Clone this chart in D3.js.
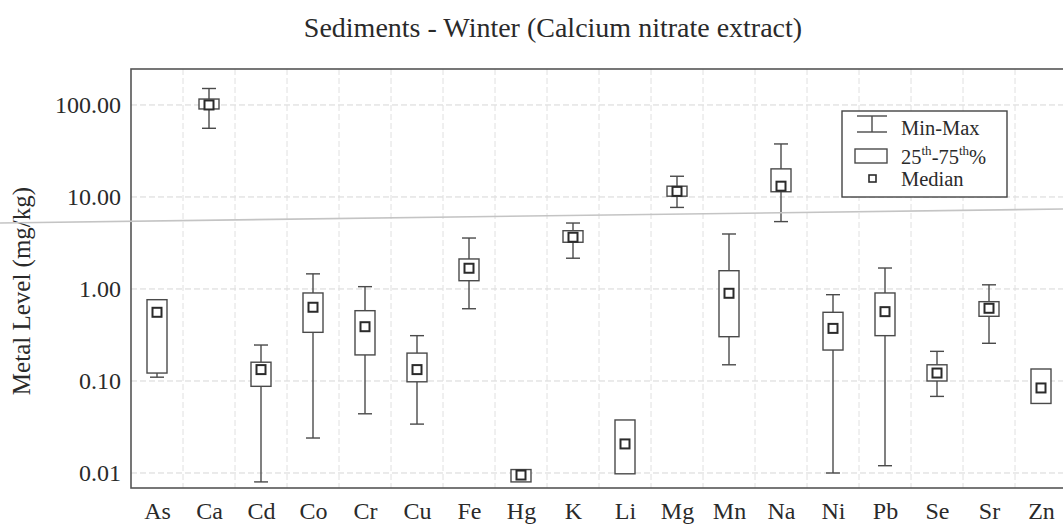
<!DOCTYPE html>
<html>
<head>
<meta charset="utf-8">
<script src="https://cdn.jsdelivr.net/npm/d3@7"></script>
<style>
  html, body { margin: 0; padding: 0; background: #ffffff; }
  svg { display: block; }
  text { font-family: "Liberation Serif", "DejaVu Serif", serif; fill: #2a2a2a; }
</style>
</head>
<body>
<svg id="chart" width="1063" height="524"></svg>
<script>
// ---- data ----
const categories = ["As","Ca","Cd","Co","Cr","Cu","Fe","Hg","K","Li","Mg","Mn","Na","Ni","Pb","Se","Sr","Zn"];
const minValues    = [0.110, 55.8, 0.0080, 0.024, 0.044, 0.034, 0.61, 0.0080, 2.16, 0.0098, 7.7, 0.150, 5.4, 0.0100, 0.012, 0.068, 0.257, 0.057];
const q1Values     = [0.122, 90.5, 0.0875, 0.338, 0.192, 0.098, 1.23, 0.0080, 3.22, 0.0098, 10.2, 0.303, 11.4, 0.217, 0.311, 0.100, 0.505, 0.057];
const medianValues = [0.558, 100,  0.133,  0.633, 0.389, 0.133, 1.68, 0.0095, 3.65, 0.0207, 11.5, 0.898, 13.1, 0.373, 0.567, 0.122, 0.617, 0.084];
const q3Values     = [0.765, 116,  0.160,  0.905, 0.581, 0.201, 2.12, 0.0109, 4.30, 0.0377, 13.1, 1.58, 20.2, 0.558, 0.905, 0.150, 0.728, 0.135];
const maxValues    = [0.765, 151,  0.246,  1.46,  1.06,  0.311, 3.58, 0.0109, 5.21, 0.0377, 16.8, 3.96, 37.7, 0.867, 1.69, 0.210, 1.11, 0.135];
const yTickValues  = [0.01, 0.1, 1, 10, 100];
const titleText = "Sediments - Winter (Calcium nitrate extract)";
const yAxisTitle = "Metal Level (mg/kg)";

const rows = categories.map((c, i) => ({
  cat: c, min: minValues[i], q1: q1Values[i], med: medianValues[i], q3: q3Values[i], max: maxValues[i]
}));

// ---- layout ----
const svg = d3.select("#chart");
const plot = { left: 131, right: 1067, top: 69, bottom: 488 };

const x = d3.scalePoint().domain(categories).range([plot.left, plot.right]).padding(0.5);
const step = x.step();
const y = d3.scaleLog().domain([0.00687, 246]).range([plot.bottom, plot.top]);

// grid
const grid = svg.append("g");
grid.selectAll("line.h").data(yTickValues).join("line")
  .attr("x1", plot.left).attr("x2", plot.right)
  .attr("y1", d => y(d)).attr("y2", d => y(d))
  .attr("stroke", "#d6d6d6").attr("stroke-width", 1).attr("stroke-dasharray", "6,3");
grid.selectAll("line.v").data(categories.slice(1)).join("line")
  .attr("x1", d => x(d) - step / 2).attr("x2", d => x(d) - step / 2)
  .attr("y1", plot.top).attr("y2", plot.bottom)
  .attr("stroke", "#e0e0e0").attr("stroke-width", 1).attr("stroke-dasharray", "6,3");

// boxes
const boxW = 20, capW = 14, medW = 9;
const g = svg.append("g").selectAll("g").data(rows).join("g")
  .attr("transform", d => `translate(${x(d.cat)},0)`);
g.filter(d => d.max > d.q3).append("line")
  .attr("x1", 0).attr("x2", 0).attr("y1", d => y(d.max)).attr("y2", d => y(d.q3))
  .attr("stroke", "#4a4a4a").attr("stroke-width", 1.4);
g.filter(d => d.max > d.q3).append("line")
  .attr("x1", -capW / 2).attr("x2", capW / 2).attr("y1", d => y(d.max)).attr("y2", d => y(d.max))
  .attr("stroke", "#4a4a4a").attr("stroke-width", 1.4);
g.filter(d => d.min < d.q1).append("line")
  .attr("x1", 0).attr("x2", 0).attr("y1", d => y(d.q1)).attr("y2", d => y(d.min))
  .attr("stroke", "#4a4a4a").attr("stroke-width", 1.4);
g.filter(d => d.min < d.q1).append("line")
  .attr("x1", -capW / 2).attr("x2", capW / 2).attr("y1", d => y(d.min)).attr("y2", d => y(d.min))
  .attr("stroke", "#4a4a4a").attr("stroke-width", 1.4);
g.append("rect")
  .attr("x", -boxW / 2).attr("width", boxW)
  .attr("y", d => y(d.q3)).attr("height", d => Math.max(1, y(d.q1) - y(d.q3)))
  .attr("fill", "#ffffff").attr("stroke", "#4a4a4a").attr("stroke-width", 1.4);
g.append("rect")
  .attr("x", -medW / 2).attr("width", medW)
  .attr("y", d => y(d.med) - medW / 2).attr("height", medW)
  .attr("fill", "#ffffff").attr("stroke", "#2b2b2b").attr("stroke-width", 2);

// frame
svg.append("rect")
  .attr("x", plot.left).attr("y", plot.top)
  .attr("width", plot.right - plot.left).attr("height", plot.bottom - plot.top)
  .attr("fill", "none").attr("stroke", "#555").attr("stroke-width", 1.6);

// y axis
const yAxis = svg.append("g").attr("transform", `translate(${plot.left},0)`)
  .call(d3.axisLeft(y).tickValues(yTickValues).tickFormat(d3.format(".2f")).tickSize(0).tickPadding(10));
yAxis.select(".domain").remove();
yAxis.selectAll("text")
  .style("font-size", "24px").style("font-family", "'Liberation Serif', serif").style("fill", "#2a2a2a");

// x axis
const xAxis = svg.append("g").attr("transform", `translate(0,${plot.bottom})`)
  .call(d3.axisBottom(x).tickSize(0).tickPadding(0));
xAxis.select(".domain").remove();
xAxis.selectAll("text")
  .style("font-size", "24px").style("font-family", "'Liberation Serif', serif").style("fill", "#2a2a2a")
  .attr("dy", null).attr("y", 31);

// title
svg.append("text").attr("x", 553).attr("y", 37).attr("text-anchor", "middle")
  .style("font-size", "28px").text(titleText);

// y axis title
svg.append("text").attr("transform", "translate(30,291) rotate(-90)")
  .attr("text-anchor", "middle").style("font-size", "25px").text(yAxisTitle);

// legend
const lg = svg.append("g");
lg.append("rect").attr("x", 842).attr("y", 111).attr("width", 165).attr("height", 86)
  .attr("fill", "#ffffff").attr("stroke", "#444").attr("stroke-width", 1.4);
lg.append("line").attr("x1", 872).attr("x2", 872).attr("y1", 116).attr("y2", 132).attr("stroke", "#4a4a4a").attr("stroke-width", 1.4);
lg.append("line").attr("x1", 857).attr("x2", 887).attr("y1", 116).attr("y2", 116).attr("stroke", "#4a4a4a").attr("stroke-width", 1.4);
lg.append("line").attr("x1", 857).attr("x2", 887).attr("y1", 132).attr("y2", 132).attr("stroke", "#4a4a4a").attr("stroke-width", 1.4);
lg.append("rect").attr("x", 855).attr("y", 149).attr("width", 32).attr("height", 14)
  .attr("fill", "#fff").attr("stroke", "#4a4a4a").attr("stroke-width", 1.4);
lg.append("rect").attr("x", 869).attr("y", 175).attr("width", 7).attr("height", 7)
  .attr("fill", "#fff").attr("stroke", "#2b2b2b").attr("stroke-width", 1.6);
lg.append("text").attr("x", 901).attr("y", 135).style("font-size", "20.5px").text("Min-Max");
const t2 = lg.append("text").attr("x", 901).attr("y", 164).style("font-size", "20.5px");
t2.append("tspan").text("25");
t2.append("tspan").attr("dy", -9).style("font-size", "13px").text("th");
t2.append("tspan").attr("dy", 9).text("-75");
t2.append("tspan").attr("dy", -9).style("font-size", "13px").text("th");
t2.append("tspan").attr("dy", 9).text("%");
lg.append("text").attr("x", 901).attr("y", 186).style("font-size", "20.5px").text("Median");

// faint scan line across the page (present in the reference image)
svg.append("line").attr("x1", 0).attr("y1", 223).attr("x2", 1063).attr("y2", 209)
  .attr("stroke", "#c4c4c4").attr("stroke-width", 1.6);
</script>
</body>
</html>
